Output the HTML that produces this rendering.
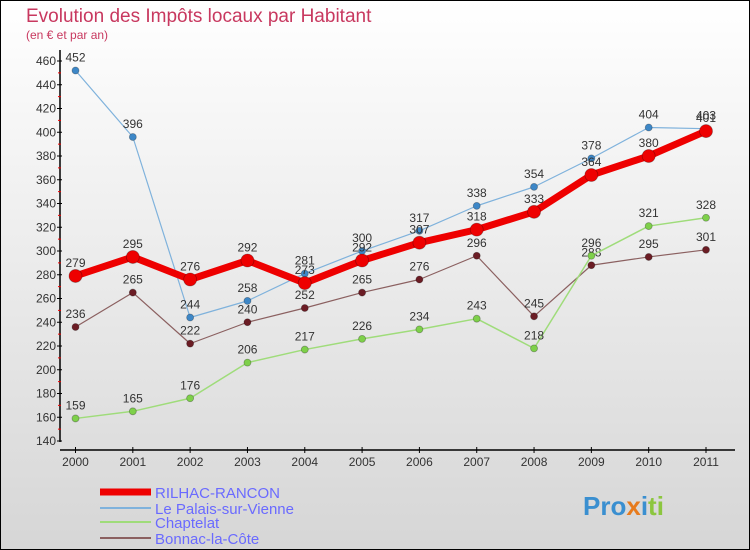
<!DOCTYPE html>
<html><head><meta charset="utf-8"><style>
body{margin:0;}
#wrap{width:750px;height:550px;position:relative;overflow:hidden;}
svg text{font-family:"Liberation Sans",sans-serif;}
</style></head><body>
<div id="wrap">
<svg id="c" width="750" height="550" xmlns="http://www.w3.org/2000/svg">
<defs><linearGradient id="bg" x1="0" y1="0" x2="0" y2="1"><stop offset="0" stop-color="#ffffff"/><stop offset="1" stop-color="#d6d6d6"/></linearGradient></defs>
<rect x="0.5" y="0.5" width="749" height="549" fill="url(#bg)" stroke="#000"/>
<text x="26" y="22" font-size="19" fill="#c8385f">Evolution des Impôts locaux par Habitant</text>
<text x="26" y="39" font-size="12" fill="#c8385f">(en € et par an)</text>
<g id="axes"></g><g id="series"></g>
<text x="583" y="515" font-size="26" font-weight="bold" fill="#3a8fd0">Pro<tspan fill="#e77b1d">x</tspan><tspan fill="#3a8fd0">i</tspan><tspan fill="#8cc63f">ti</tspan></text>
</svg></div>
<script>
const years=[2000,2001,2002,2003,2004,2005,2006,2007,2008,2009,2010,2011];
const yTicks=[140,160,180,200,220,240,260,280,300,320,340,360,380,400,420,440,460];
const names=["RILHAC-RANCON","Le Palais-sur-Vienne","Chaptelat","Bonnac-la-Côte"];
const rilhac=[279,295,276,292,273,292,307,318,333,364,380,401];
const palais=[452,396,244,258,281,300,317,338,354,378,404,403];
const chaptelat=[159,165,176,206,217,226,234,243,218,296,321,328];
const bonnac=[236,265,222,240,252,265,276,296,245,288,295,301];
const NS="http://www.w3.org/2000/svg";
const xs=i=>75.5+i*(706-75.5)/(years.length-1);
const ys=v=>441-(v-140)*(380/320);
function mk(t,a,p){const e=document.createElementNS(NS,t);for(const k in a)e.setAttribute(k,a[k]);p.appendChild(e);return e;}
const ax=document.getElementById('axes');
let yl=mk('line',{x1:60,y1:50,x2:60,y2:442,stroke:'#000','stroke-width':1.5},ax);


let xl=mk('line',{x1:60,y1:450,x2:735,y2:450,stroke:'#000','stroke-width':1.5},ax);


yTicks.forEach((v,i)=>{const y=ys(v);
 mk('line',{x1:57,y1:y,x2:62,y2:y,stroke:'#000'},ax);
 if(i<yTicks.length-1)mk('line',{x1:58,y1:ys(v+10),x2:61,y2:ys(v+10),stroke:'#e00'},ax);
 const t=mk('text',{x:56,y:y+4,'font-size':12,'text-anchor':'end',fill:'#333'},ax);t.textContent=v;
 
 
});
years.forEach((yr,i)=>{const x=xs(i);
 mk('line',{x1:x,y1:447,x2:x,y2:453,stroke:'#000'},ax);
 const t=mk('text',{x:x,y:466,'font-size':12,'text-anchor':'middle',fill:'#333'},ax);t.textContent=yr;
 
 
});
const sg=document.getElementById('series');
const defs=[[bonnac,'#6b1c24','#8b6060',1.2,3.5,'bonnac-series'],[chaptelat,'#7ed04a','#9fdc7a',1.5,3.5,'chaptelat-series'],[palais,'#3d87c7','#7fb2dc',1.2,3.5,'palais-series'],[rilhac,'#ee0000','#ee0000',7,6.5,'rilhac-series']];
defs.forEach(([d,pc,lc,w,r,nm])=>{
 const g=mk('g',{},sg);
 
 
 mk('polyline',{points:d.map((v,i)=>xs(i)+','+ys(v)).join(' '),fill:'none',stroke:lc,'stroke-width':w,'stroke-linejoin':'round'},g);
 d.forEach((v,i)=>{
  const c=mk('circle',{cx:xs(i),cy:ys(v),r:r,fill:pc,stroke:'rgba(0,0,0,0.3)','stroke-width':0.8},g);
  
  
  const t=mk('text',{x:xs(i),y:ys(v)-9,'font-size':12,'text-anchor':'middle',fill:'#333'},g);t.textContent=v;
  
  
 });
});
const lg=mk('g',{},document.getElementById('c'));


const lcol=['#ee0000','#7fb2dc','#9fdc7a','#8b6060'],lw=[7,2,2,2],ly=[492,508,522,538];
names.forEach((n,i)=>{
 const e=mk('g',{},lg);
 
 
 mk('line',{x1:100,y1:ly[i],x2:151,y2:ly[i],stroke:lcol[i],'stroke-width':lw[i]},e);
 const t=mk('text',{x:155,y:ly[i]+6,'font-size':15,fill:'#6a6aff'},e);t.textContent=n;
});
</script>
</body></html>
